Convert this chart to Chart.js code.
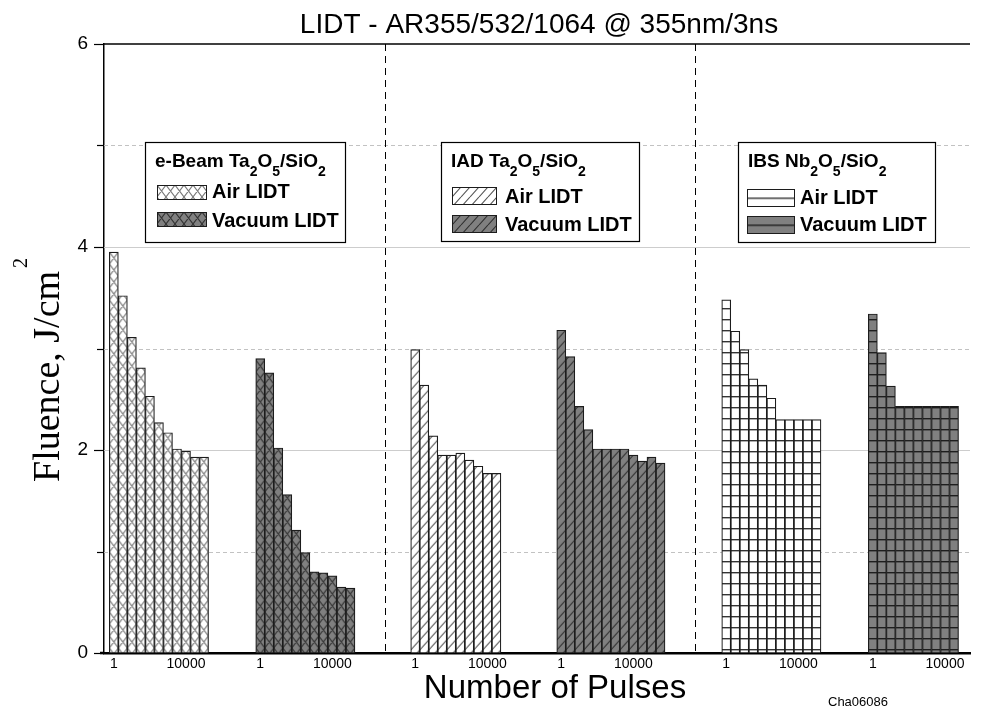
<!DOCTYPE html>
<html>
<head>
<meta charset="utf-8">
<script src="https://cdn.jsdelivr.net/npm/chart.js@4.4.1/dist/chart.umd.min.js"></script>
<style>
  body { margin: 0; background: #fff; }
  #wrap { width: 982px; height: 711px; position: relative; }
</style>
</head>
<body>
<div id="wrap"><canvas id="lidtChart"></canvas></div>
<script>
// pulse counts per bar, half-decade steps; only 1 and 10000 get a label
const pulses = [1, 3, 10, 30, 100, 300, 1000, 3000, 10000, 30000, 100000, 300000];
const tickPulses = [1, 10000];
const tickLabels = ['1', '10000'];

// damage threshold, J/cm2
const ebeamAir = [3.95, 3.52, 3.11, 2.81, 2.53, 2.27, 2.17, 2.01, 1.99, 1.93, 1.93];
const ebeamVac = [2.90, 2.76, 2.02, 1.56, 1.21, 0.99, 0.80, 0.79, 0.76, 0.65, 0.64];
const iadAir = [2.99, 2.64, 2.14, 1.95, 1.95, 1.97, 1.90, 1.84, 1.77, 1.77];
const iadVac = [3.18, 2.92, 2.43, 2.20, 2.01, 2.01, 2.01, 2.01, 1.95, 1.89, 1.93, 1.87];
const ibsAir = [3.48, 3.17, 2.99, 2.70, 2.64, 2.51, 2.30, 2.30, 2.30, 2.30, 2.30];
const ibsVac = [3.34, 2.96, 2.63, 2.43, 2.43, 2.43, 2.43, 2.43, 2.43, 2.43];

const coatings = ['e-Beam Ta_2O_5/SiO_2', 'IAD Ta_2O_5/SiO_2', 'IBS Nb_2O_5/SiO_2'];
const envLabels = ['Air LIDT', 'Vacuum LIDT'];

// layout in bar-width units along x
const xSpan = 96;
const groupStart = [0.59, 16.82, 34.0, 50.19, 68.48, 84.73];
const dividerAt = [31.15, 65.52];

const SANS = '"Liberation Sans", Arial, sans-serif';
const SERIF = '"Liberation Serif", "Times New Roman", serif';

const canvas = document.getElementById('lidtChart');
const mainCtx = canvas.getContext('2d');

const hatchKinds = ['cross', 'diag', 'bricks'];
const AIR_BG = '#ffffff', VAC_BG = '#808080';
const inks = [['#7a7a7a', '#333333'], ['#555555', '#303030'], ['#333333', '#1e1e1e']];

function makePattern(kind, bg, ink) {
  const w = 9, h = kind === 'diag' ? 10 : kind === 'cross' ? 12 : 11;
  const c = document.createElement('canvas');
  c.width = w; c.height = h;
  const g = c.getContext('2d');
  g.fillStyle = bg;
  g.fillRect(0, 0, w, h);
  g.strokeStyle = ink;
  g.lineWidth = 1.1;
  g.beginPath();
  if (kind === 'cross') {
    for (let k = -1; k <= 1; k++) {
      g.moveTo(k * w, 0); g.lineTo((k + 1) * w, h);
      g.moveTo((k + 1) * w, 0); g.lineTo(k * w, h);
    }
  } else if (kind === 'diag') {
    for (let k = -1; k <= 1; k++) {
      g.moveTo(k * w, h); g.lineTo((k + 1) * w, 0);
    }
  } else {
    g.lineWidth = 1.4;
    g.moveTo(0, 0.7); g.lineTo(w, 0.7);
  }
  g.stroke();
  return mainCtx.createPattern(c, 'repeat');
}

function fillFor(g) {
  const k = g >> 1, vac = g % 2;
  return makePattern(hatchKinds[k], vac ? VAC_BG : AIR_BG, inks[k][vac]);
}

const series = [ebeamAir, ebeamVac, iadAir, iadVac, ibsAir, ibsVac];
const legendFills = series.map((s, g) => fillFor(g));

const datasets = series.map((vals, g) => ({
  label: coatings[g >> 1] + ' ' + envLabels[g % 2],
  data: vals.map((v, i) => ({ x: groupStart[g] + i + 0.5, y: v })),
  backgroundColor: fillFor(g),
  borderColor: '#1c1c1c',
  borderWidth: 1.2,
  borderSkipped: false,
  grouped: false,
  barPercentage: 1,
  categoryPercentage: 1
}));

// x tick positions: the labelled pulse counts inside every group
const xTicks = [];
groupStart.forEach(s => {
  tickPulses.forEach((p, k) => {
    xTicks.push({ value: s + pulses.indexOf(p) + 0.5, label: tickLabels[k] });
  });
});

// text with "_n" subscripts
function richText(ctx, str, x, y, size, sub) {
  const parts = str.split(/(_\d)/).filter(Boolean);
  let cx = x;
  parts.forEach(p => {
    if (p[0] === '_') {
      ctx.font = 'bold ' + sub + 'px ' + SANS;
      ctx.fillText(p.slice(1), cx, y + 9);
      cx += ctx.measureText(p.slice(1)).width;
    } else {
      ctx.font = 'bold ' + size + 'px ' + SANS;
      ctx.fillText(p, cx, y);
      cx += ctx.measureText(p).width;
    }
  });
}

// legend frames; offsets of swatches and labels are relative to the frame
const legendBoxes = [
  { left: 145, top: 142, w: 200, h: 100, sx: 12, sw: 49, sy: [43, 70], sh: 14, tx: 67, ty: [56, 85] },
  { left: 441, top: 142, w: 198, h: 99, sx: 11, sw: 44, sy: [45, 73], sh: 17, tx: 64, ty: [61, 89] },
  { left: 738, top: 142, w: 197, h: 100, sx: 9, sw: 47, sy: [47, 74], sh: 17, tx: 62, ty: [62, 89] }
];

const decorations = {
  id: 'decorations',
  beforeDatasetsDraw(chart) {
    const { ctx, chartArea: a, scales: { x, y } } = chart;
    // start each hatch at the left edge of its group
    chart.data.datasets.forEach((ds, g) => {
      const px = x.getPixelForValue(groupStart[g]);
      ds.backgroundColor.setTransform(new DOMMatrix([1, 0, 0, 1, px, 0]));
    });
    ctx.save();
    // horizontal grid: solid at even values, dashed at odd
    for (let v = 1; v < 6; v++) {
      const py = Math.round(y.getPixelForValue(v)) + 0.5;
      ctx.beginPath();
      ctx.strokeStyle = v % 2 ? '#c2c2c2' : '#cdcdcd';
      ctx.lineWidth = 1;
      ctx.setLineDash(v % 2 ? [4, 3] : []);
      ctx.moveTo(a.left, py);
      ctx.lineTo(a.right, py);
      ctx.stroke();
    }
    // dashed dividers between coating types
    ctx.strokeStyle = '#000';
    ctx.setLineDash([7, 5]);
    dividerAt.forEach(v => {
      const px = Math.round(x.getPixelForValue(v)) + 0.5;
      ctx.beginPath();
      ctx.moveTo(px, a.top);
      ctx.lineTo(px, a.bottom);
      ctx.stroke();
    });
    ctx.setLineDash([]);
    // top frame line
    ctx.lineWidth = 1.5;
    ctx.beginPath();
    ctx.moveTo(a.left, a.top);
    ctx.lineTo(a.right, a.top);
    ctx.stroke();
    // y tick marks, long at labelled values
    ctx.lineWidth = 1.2;
    for (let v = 0; v <= 6; v++) {
      const py = Math.round(y.getPixelForValue(v)) + 0.5;
      ctx.beginPath();
      ctx.moveTo(a.left - (v % 2 ? 7 : 10), py);
      ctx.lineTo(a.left, py);
      ctx.stroke();
    }
    // bottom axis runs a little past the y axis
    ctx.lineWidth = 2.5;
    ctx.beginPath();
    ctx.moveTo(a.left - 4, a.bottom);
    ctx.lineTo(a.left, a.bottom);
    ctx.stroke();
    ctx.restore();
  },
  afterDatasetsDraw(chart) {
    const { ctx } = chart;
    ctx.save();
    ctx.textBaseline = 'alphabetic';
    ctx.textAlign = 'left';
    legendBoxes.forEach((b, k) => {
      ctx.fillStyle = '#fff';
      ctx.fillRect(b.left, b.top, b.w, b.h);
      ctx.strokeStyle = '#000';
      ctx.lineWidth = 1.2;
      ctx.strokeRect(b.left + 0.5, b.top + 0.5, b.w, b.h);
      ctx.fillStyle = '#000';
      richText(ctx, coatings[k], b.left + 10, b.top + 25, 19, 14);
      envLabels.forEach((lab, r) => {
        const sy = b.top + b.sy[r];
        const fill = legendFills[k * 2 + r];
        // hatch starts at the swatch corner, stripe runs through the middle
        const dy = hatchKinds[k] === 'bricks' ? b.sh / 2 : 0;
        fill.setTransform(new DOMMatrix([1, 0, 0, 1, b.left + b.sx, sy + dy]));
        ctx.fillStyle = fill;
        ctx.fillRect(b.left + b.sx, sy, b.sw, b.sh);
        ctx.strokeStyle = '#1c1c1c';
        ctx.lineWidth = 1;
        ctx.strokeRect(b.left + b.sx + 0.5, sy + 0.5, b.sw, b.sh);
        ctx.fillStyle = '#000';
        ctx.font = 'bold 20px ' + SANS;
        ctx.fillText(lab, b.left + b.tx, b.top + b.ty[r]);
      });
    });
    ctx.restore();
  },
  afterDraw(chart) {
    const { ctx } = chart;
    ctx.save();
    ctx.fillStyle = '#000';
    // title
    ctx.font = '28px ' + SANS;
    ctx.textAlign = 'center';
    ctx.textBaseline = 'middle';
    ctx.fillText('LIDT - AR355/532/1064 @ 355nm/3ns', 539, 25);
    // x title
    ctx.font = '33px ' + SANS;
    ctx.fillText('Number of Pulses', 555, 689);
    ctx.font = '13px ' + SANS;
    ctx.fillText('Cha06086', 858, 702);
    // y title with superscript
    ctx.translate(59, 482);
    ctx.rotate(-Math.PI / 2);
    ctx.textAlign = 'left';
    ctx.textBaseline = 'alphabetic';
    ctx.font = '38px ' + SERIF;
    const main = 'Fluence, J/cm';
    ctx.fillText(main, 0, 0);
    const mw = ctx.measureText(main).width;
    ctx.font = '20px ' + SERIF;
    ctx.fillText('2', mw + 3, -32);
    ctx.restore();
  }
};

new Chart(canvas, {
  type: 'bar',
  data: { datasets },
  options: {
    responsive: true,
    maintainAspectRatio: false,
    animation: false,
    layout: { padding: { left: 0, right: 12, top: 44, bottom: 0 } },
    plugins: {
      legend: { display: false },
      title: { display: false },
      tooltip: { enabled: false }
    },
    scales: {
      x: {
        type: 'linear',
        min: 0,
        max: xSpan,
        offset: false,
        grid: { display: false, drawTicks: false },
        border: { display: true, color: '#000', width: 2.5 },
        afterFit(scale) { scale.height = 58; },
        afterBuildTicks(scale) {
          scale.ticks = xTicks.map(t => ({ value: t.value }));
        },
        ticks: {
          autoSkip: false,
          maxRotation: 0,
          padding: 3,
          color: '#000',
          font: { family: SANS, size: 14 },
          callback(value) {
            const t = xTicks.find(t => Math.abs(t.value - value) < 1e-6);
            return t ? t.label : '';
          }
        }
      },
      y: {
        min: 0,
        max: 6,
        grid: { display: false, drawTicks: false },
        border: { display: true, color: '#000', width: 1.5 },
        afterFit(scale) { scale.width = 104; },
        ticks: {
          stepSize: 1,
          padding: 16,
          color: '#000',
          font: { family: SANS, size: 19 },
          callback(v) { return v % 2 === 0 ? v : ''; }
        }
      }
    }
  },
  plugins: [decorations]
});
</script>
</body>
</html>
